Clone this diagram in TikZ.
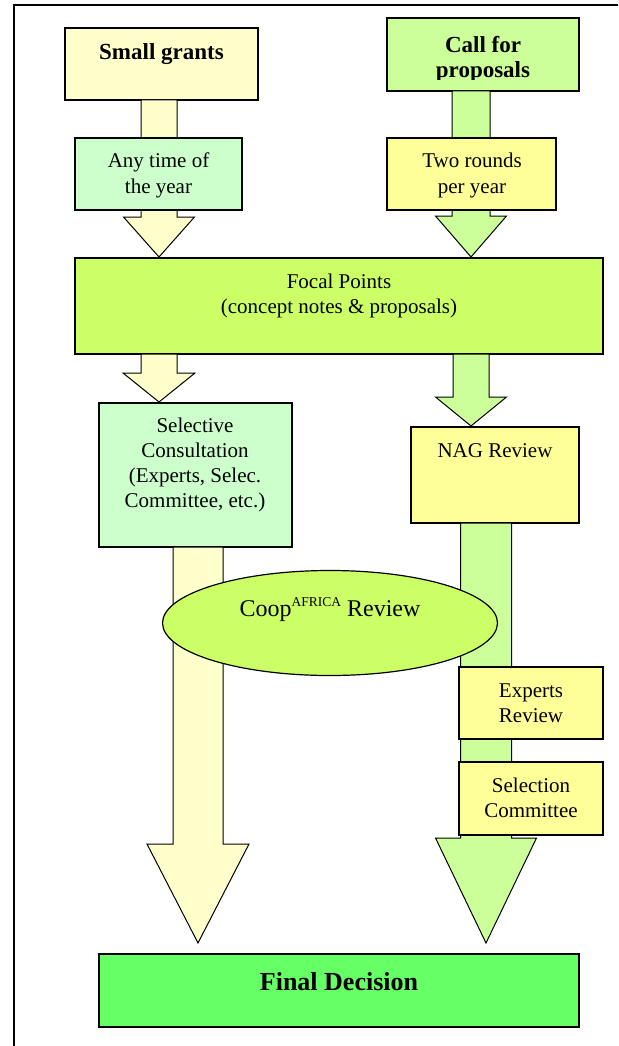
\documentclass[tikz,border=0pt]{standalone}
\usepackage{fontspec}
\setmainfont{Liberation Serif}
\usetikzlibrary{shapes.geometric}
\definecolor{cLY}{HTML}{FFFFCC}
\definecolor{cLG}{HTML}{CCFFCC}
\definecolor{cYG}{HTML}{CCFF66}
\definecolor{cPG}{HTML}{CCFF99}
\definecolor{cYY}{HTML}{FFFF99}
\definecolor{cFG}{HTML}{66FF66}
\tikzset{
  box/.style={draw=black, line width=1.2pt, rectangle, inner sep=0pt, outer sep=0pt, anchor=north west},
  oval/.style={draw=black, line width=1.2pt, ellipse, inner sep=0pt, outer sep=0pt},
  barrowline/.style={draw=black, line width=1pt, line join=miter},
  txt/.style={font=\fontsize{21}{25}\selectfont, align=center, inner sep=0pt, anchor=base},
  btxt/.style={font=\fontsize{23}{26}\selectfont\bfseries, align=center, inner sep=0pt, anchor=base},
}
% #1 fill, #2 source node, #3 centre x, #4 shaft half width, #5 head half width, #6 head y, #7 tip y
\newcommand\blockarrow[7]{%
  \pgfmathsetmacro\xa{#3-#4}\pgfmathsetmacro\xb{#3+#4}%
  \pgfmathsetmacro\xc{#3-#5}\pgfmathsetmacro\xd{#3+#5}%
  \draw[barrowline, fill=#1] (\xa,0 |- #2.south) -- (\xa,#6) -- (\xc,#6) -- (#3,#7)
     -- (\xd,#6) -- (\xb,#6) -- (\xb,0 |- #2.south) -- cycle;}
\begin{document}
\begin{tikzpicture}[x=1pt,y=-1pt]
\useasboundingbox (0,0) rectangle (618,1046);
% frame
\draw[line width=2pt] (14,1046) -- (14,5) -- (618,5);

% top boxes
\node[box, fill=cLY, minimum width=193, minimum height=72] (sg) at (65,28) {};
\node[box, fill=cPG, minimum width=192, minimum height=73] (call) at (387,18) {};

% arrows to focal points
\blockarrow{cLY}{sg}{159}{18}{35.5}{217}{257}
\blockarrow{cPG}{call}{471}{19}{35.5}{216}{257}

\node[btxt] (tsg) at (161.5,60) {Small grants};
\node[btxt] (tcall) at (483,53) {Call for};
\begin{scope}
  \clip (387,18) rectangle (579,80);
  \node[btxt] (tcall2) at (483,78) {proposals};
\end{scope}

\node[box, fill=cLG, minimum width=167, minimum height=72] (any) at (75,138) {};
\node[box, fill=cYY, minimum width=169, minimum height=72] (two) at (387,138) {};
\node[txt] (tany) at (158.5,193) {Any time of\\the year};
\node[txt] (ttwo) at (472,193) {Two rounds\\per year};

% focal points
\node[box, fill=cYG, minimum width=528, minimum height=96] (focal) at (75,258) {};
\node[txt] (tfocal) at (339,313) {Focal Points\\(concept notes \& proposals)};

\blockarrow{cLY}{focal}{159}{18}{36}{373}{402}
\blockarrow{cPG}{focal}{471}{18}{35.5}{397}{426}

\node[box, fill=cLG, minimum width=193, minimum height=144] (sel) at (99,403) {};
\node[txt] (tsel) at (195,507) {Selective\\Consultation\\(Experts, Selec.\\Committee, etc.)};
\node[box, fill=cYY, minimum width=168, minimum height=96] (nag) at (411,427) {};
\node[txt] (tnag) at (495,457) {NAG Review};

% long arrows
\blockarrow{cLY}{sel}{198}{25}{51}{844}{943}
\blockarrow{cPG}{nag}{486}{25.5}{50.5}{838}{943}

\node[box, fill=cYY, minimum width=144, minimum height=72] (exp) at (459,667) {};
\node[txt] (texp) at (531,722) {Experts\\Review};
\node[box, fill=cYY, minimum width=144, minimum height=73] (selc) at (459,762) {};
\node[txt] (tselc) at (531,817) {Selection\\Committee};

\node[oval, fill=cYG, minimum width=335, minimum height=105] (coop) at (330,623) {};
\node[txt, font=\fontsize{24}{28}\selectfont] (tcoop) at (330,616) {Coop\raisebox{10pt}{\fontsize{13.5}{14}\selectfont AFRICA} Review};

% final decision
\node[box, fill=cFG, minimum width=480, minimum height=73] (final) at (99,954) {};
\node[btxt, font=\fontsize{26}{30}\selectfont\bfseries] (tfinal) at (339,990) {Final Decision};
\end{tikzpicture}
\end{document}
